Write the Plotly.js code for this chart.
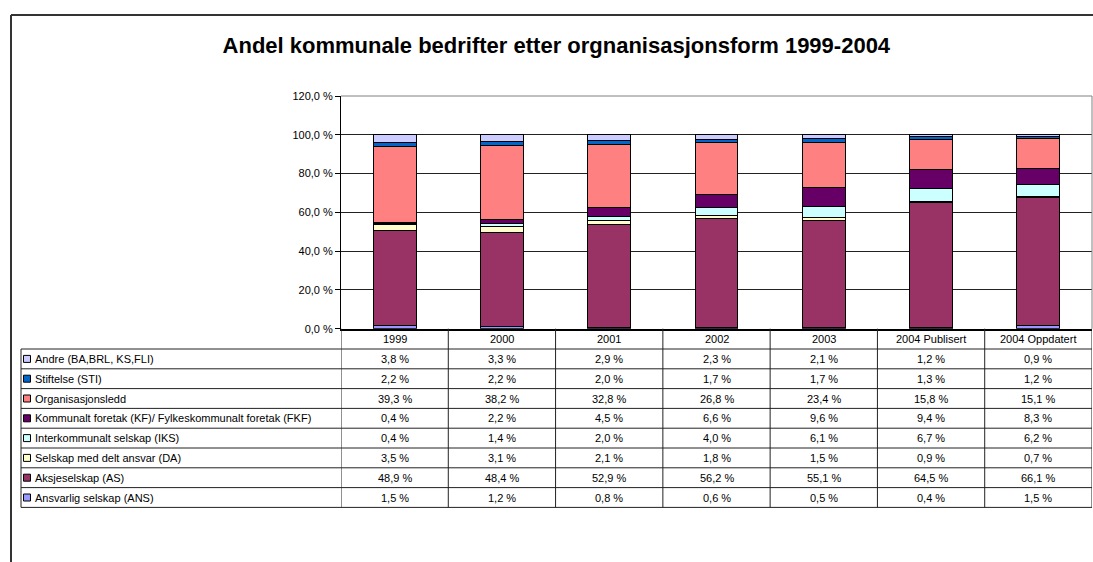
<!DOCTYPE html>
<html>
<head>
<meta charset="utf-8">
<script src="https://cdn.plot.ly/plotly-3.0.1.min.js"></script>
<style>html,body{margin:0;padding:0;background:#fff;}#chart{width:1093px;height:562px;}</style>
</head>
<body>
<div id="chart"></div>
<script>
// ---- Data ----
const categories = ['1999', '2000', '2001', '2002', '2003', '2004 Publisert', '2004 Oppdatert'];
const andre      = [3.8, 3.3, 2.9, 2.3, 2.1, 1.2, 0.9];
const stiftelse  = [2.2, 2.2, 2.0, 1.7, 1.7, 1.3, 1.2];
const orgledd    = [39.3, 38.2, 32.8, 26.8, 23.4, 15.8, 15.1];
const kf         = [0.4, 2.2, 4.5, 6.6, 9.6, 9.4, 8.3];
const iks        = [0.4, 1.4, 2.0, 4.0, 6.1, 6.7, 6.2];
const da         = [3.5, 3.1, 2.1, 1.8, 1.5, 0.9, 0.7];
const as_        = [48.9, 48.4, 52.9, 56.2, 55.1, 64.5, 66.1];
const ans        = [1.5, 1.2, 0.8, 0.6, 0.5, 0.4, 1.5];
const seriesNames = [
  'Andre (BA,BRL, KS,FLI)',
  'Stiftelse (STI)',
  'Organisasjonsledd',
  'Kommunalt foretak (KF)/ Fylkeskommunalt foretak (FKF)',
  'Interkommunalt selskap (IKS)',
  'Selskap med delt ansvar (DA)',
  'Aksjeselskap (AS)',
  'Ansvarlig selskap (ANS)'
];
const seriesValues = [andre, stiftelse, orgledd, kf, iks, da, as_, ans];
const seriesColors = ['#CCCCFF', '#0066CC', '#FF8080', '#660066', '#CCFFFF', '#FFFFCC', '#993366', '#9999FF'];
const yTickVals = [0, 20, 40, 60, 80, 100, 120];
const titleText = 'Andel kommunale bedrifter etter orgnanisasjonsform 1999-2004';

// ---- Layout geometry (pixels) ----
const W = 1093, H = 562;
const FONT = 'Liberation Sans, Arial, sans-serif';
const px = x => x / W;
const py = y => 1 - y / H;
const plotLeft = 341, plotRight = 1092, plotTop = 96, plotBottom = 328.7;
const tableLeft = 21;
const headerBottom = 349, rowH = 19.8;

const fmt = v => v.toFixed(1).replace('.', ',') + ' %';

// bars: stacked bottom to top (reverse of table order)
const xIdx = categories.map((c, i) => i);
const traces = [];
for (let i = seriesValues.length - 1; i >= 0; i--) {
  traces.push({
    type: 'bar',
    x: xIdx,
    y: seriesValues[i],
    name: seriesNames[i],
    text: categories,
    marker: {color: seriesColors[i], line: {color: '#000', width: 1}},
    textposition: 'none',
    hoverinfo: 'y+name'
  });
}

const shapes = [];
const annotations = [];

// outer frame
shapes.push({type: 'line', xref: 'paper', yref: 'paper', x0: px(11), x1: 1.01, y0: py(15), y1: py(15), line: {color: '#333', width: 2}});
shapes.push({type: 'line', xref: 'paper', yref: 'paper', x0: px(11), x1: px(11), y0: py(15), y1: -0.01, line: {color: '#333', width: 2}});

// plot area top/right border
shapes.push({type: 'line', xref: 'paper', yref: 'paper', x0: px(plotLeft), x1: px(plotRight), y0: py(plotTop), y1: py(plotTop), line: {color: '#808080', width: 1}});
shapes.push({type: 'line', xref: 'paper', yref: 'paper', x0: px(plotRight), x1: px(plotRight), y0: py(plotTop), y1: py(plotBottom), line: {color: '#808080', width: 1}});

const nRows = seriesNames.length;
const tableBottom = headerBottom + nRows * rowH;

// table horizontal lines
for (let k = 0; k <= nRows; k++) {
  const y = headerBottom + k * rowH;
  shapes.push({type: 'line', xref: 'paper', yref: 'paper', x0: px(tableLeft), x1: px(plotRight), y0: py(y), y1: py(y), line: {color: '#222', width: 1}});
}
// left border of label column
shapes.push({type: 'line', xref: 'paper', yref: 'paper', x0: px(tableLeft), x1: px(tableLeft), y0: py(headerBottom), y1: py(tableBottom), line: {color: '#222', width: 1}});
// column boundaries via the category axis
for (let i = 0; i <= categories.length; i++) {
  shapes.push({type: 'line', xref: 'x', yref: 'paper', x0: i - 0.5, x1: i - 0.5, y0: py(plotBottom), y1: py(tableBottom), line: {color: '#222', width: 1}});
}

// header labels
categories.forEach((c, i) => {
  annotations.push({xref: 'x', yref: 'paper', x: i, y: py((plotBottom + headerBottom) / 2 + 0.5), text: c, showarrow: false,
    xanchor: 'center', yanchor: 'middle', font: {family: FONT, size: 11, color: '#000'}});
});

// rows
seriesNames.forEach((name, k) => {
  const yc = headerBottom + rowH * (k + 0.5);
  shapes.push({type: 'rect', xref: 'paper', yref: 'paper', x0: px(23.5), x1: px(30.5), y0: py(yc - 3.5), y1: py(yc + 3.5),
    fillcolor: seriesColors[k], line: {color: '#000', width: 1}});
  annotations.push({xref: 'paper', yref: 'paper', x: px(33), y: py(yc), text: name, showarrow: false,
    xanchor: 'left', yanchor: 'middle', font: {family: FONT, size: 11, color: '#000'}});
  seriesValues[k].forEach((v, i) => {
    annotations.push({xref: 'x', yref: 'paper', x: i, y: py(yc), text: fmt(v), showarrow: false,
      xanchor: 'center', yanchor: 'middle', font: {family: FONT, size: 11, color: '#000'}});
  });
});

const layout = {
  width: W, height: H,
  margin: {l: 0, r: 0, t: 0, b: 0},
  paper_bgcolor: '#fff', plot_bgcolor: '#fff',
  barmode: 'stack',
  bargap: 0.6,
  showlegend: false,
  font: {family: FONT, size: 11, color: '#000'},
  title: {text: '<b>' + titleText + '</b>', x: 0.509, xref: 'paper', xanchor: 'center', y: py(45.5), yref: 'paper', yanchor: 'middle',
    font: {family: FONT, size: 22, color: '#000'}},
  xaxis: {
    domain: [px(plotLeft), px(plotRight)],
    type: 'linear',
    range: [-0.5, categories.length - 0.5],
    showticklabels: false,
    ticks: '',
    showgrid: false,
    showline: true, linecolor: '#000', linewidth: 2,
    zeroline: false, fixedrange: true
  },
  yaxis: {
    domain: [py(plotBottom), py(plotTop)],
    range: [0, 120],
    tickmode: 'array',
    tickvals: yTickVals,
    ticktext: yTickVals.map(fmt),
    ticks: 'outside', ticklen: 5, tickcolor: '#000', tickwidth: 1,
    tickfont: {family: FONT, size: 11, color: '#000'},
    showgrid: true, gridcolor: '#222', gridwidth: 1,
    showline: true, linecolor: '#000', linewidth: 1,
    zeroline: false, fixedrange: true
  },
  shapes: shapes,
  annotations: annotations
};

Plotly.newPlot('chart', traces, layout, {displayModeBar: false, staticPlot: true});
</script>
</body>
</html>
